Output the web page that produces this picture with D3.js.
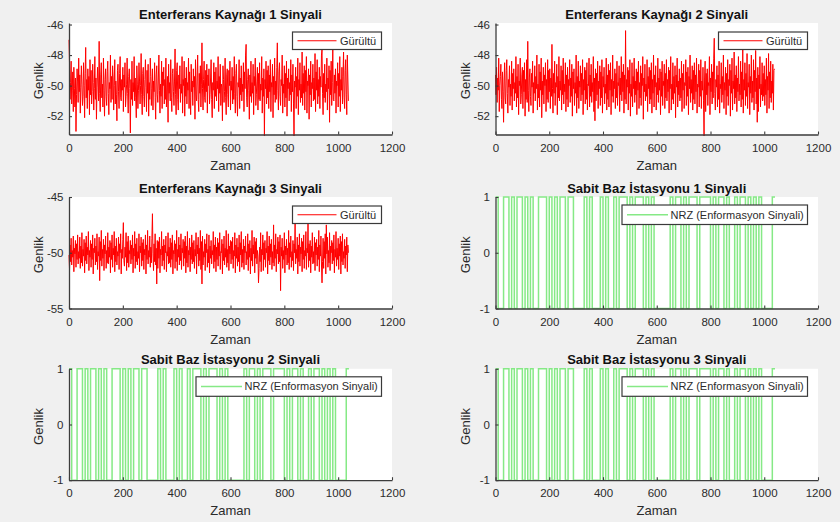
<!DOCTYPE html>
<html>
<head>
<meta charset="utf-8">
<script src="https://cdn.jsdelivr.net/npm/d3@7"></script>
<style>
  html, body { margin: 0; padding: 0; background: #f0f0f0; }
  svg { display: block; font-family: "Liberation Sans", Arial, Helvetica, sans-serif; }
</style>
</head>
<body>
<svg id="fig" width="840" height="522"></svg>
<script>
// ---- data -------------------------------------------------------------
// noise samples are stored every `sampleStep` time units
const sampleStep = 2;

const noise1 = [
  -47.0,-48.6,-50.9,-49.8,-48.4,-51.2,-50.3,-49.1,-51.7,-48.8,-50.2,-51.4,-49.5,-53.0,-50.6,-48.9,-49.7,-51.1,-48.2,-50.4,
  -49.3,-51.8,-50.1,-48.7,-49.9,-51.3,-50.7,-48.5,-50.0,-52.1,-49.2,-47.5,-50.8,-49.6,-51.5,-48.9,-50.3,-49.4,-51.9,-48.3,
  -50.6,-49.0,-51.2,-50.4,-48.6,-49.8,-51.6,-50.2,-48.1,-50.9,-49.5,-52.2,-50.1,-48.8,-49.7,-51.0,-47.1,-50.5,-51.7,-49.3,
  -48.5,-50.8,-49.9,-51.4,-48.2,-50.3,-52.0,-49.6,-48.9,-50.7,-51.3,-49.1,-48.4,-50.5,-51.9,-49.8,-50.2,-48.0,-51.1,-49.4,
  -50.9,-48.7,-49.5,-51.6,-50.0,-48.3,-51.2,-49.7,-50.6,-52.3,-49.0,-48.6,-50.4,-51.5,-49.2,-48.1,-50.8,-51.0,-49.6,-50.3,
  -48.8,-51.7,-49.3,-50.1,-48.5,-51.4,-50.7,-49.9,-48.2,-50.5,-51.8,-49.4,-48.9,-50.2,-53.1,-49.6,-50.9,-48.4,-51.3,-49.8,
  -50.4,-48.1,-51.0,-49.5,-50.8,-52.1,-48.7,-49.9,-51.5,-50.3,-48.5,-49.7,-51.2,-50.0,-47.9,-50.6,-51.9,-49.2,-48.8,-50.7,
  -51.4,-49.6,-48.3,-50.1,-51.7,-49.0,-50.5,-48.6,-52.0,-49.8,-50.9,-48.2,-49.4,-51.3,-50.2,-48.9,-51.6,-49.7,-50.4,-48.5,
  -50.8,-52.2,-49.3,-48.7,-50.6,-51.1,-49.5,-48.0,-50.3,-51.8,-49.9,-50.7,-48.4,-51.5,-49.1,-50.0,-48.8,-51.2,-49.6,-50.9,
  -48.2,-51.4,-50.1,-49.4,-52.4,-48.6,-50.5,-49.8,-51.0,-48.3,-50.8,-51.7,-49.2,-48.9,-50.4,-51.3,-49.7,-47.6,-50.6,-51.9,
  -49.0,-48.5,-50.9,-51.6,-49.3,-50.2,-48.7,-51.1,-49.9,-50.5,-48.1,-51.8,-49.6,-50.0,-48.4,-52.0,-49.5,-50.7,-48.8,-51.2,
  -49.8,-50.3,-48.2,-51.5,-49.1,-50.8,-51.9,-48.6,-50.4,-49.7,-51.3,-48.9,-50.1,-49.4,-52.2,-48.3,-50.6,-51.0,-49.5,-48.0,
  -50.9,-51.7,-49.2,-50.5,-48.7,-51.4,-49.9,-47.2,-50.2,-51.6,-49.6,-48.4,-50.8,-51.1,-49.0,-50.4,-48.6,-51.8,-49.3,-50.0,
  -48.9,-51.2,-50.6,-49.5,-48.3,-50.9,-52.1,-49.8,-50.3,-48.5,-51.5,-49.1,-50.7,-48.8,-51.0,-49.7,-50.2,-48.1,-51.7,-49.4,
  -50.5,-48.6,-51.3,-49.9,-50.1,-52.3,-48.7,-49.6,-51.1,-50.4,-48.2,-50.8,-51.9,-49.3,-48.9,-50.6,-51.4,-49.0,-50.0,-48.4,
  -51.6,-49.7,-50.3,-48.8,-51.2,-49.4,-50.9,-48.1,-50.5,-51.8,-49.2,-48.6,-50.7,-52.0,-49.8,-50.1,-48.3,-51.5,-49.5,-50.6,
  -48.7,-51.0,-49.9,-50.4,-48.5,-51.7,-49.1,-50.2,-48.0,-47.3,-50.8,-51.4,-49.6,-48.9,-50.3,-52.2,-49.3,-50.7,-48.4,-51.1,
  -49.8,-50.5,-48.6,-51.9,-49.4,-50.0,-48.2,-51.3,-50.6,-49.7,-48.8,-51.6,-49.2,-50.9,-48.5,-51.0,-49.9,-50.3,-48.1,-51.8,
  -49.5,-50.7,-48.9,-53.3,-49.6,-50.2,-48.4,-51.2,-49.0,-50.8,-48.7,-51.5,-49.3,-50.4,-48.3,-51.7,-49.8,-50.1,-48.6,-52.1,
  -49.4,-50.6,-48.2,-51.1,-49.7,-50.9,-48.8,-47.2,-50.3,-51.6,-49.1,-48.5,-50.7,-51.3,-49.6,-50.0,-48.0,-51.8,-49.9,-50.5,
  -48.7,-51.4,-49.2,-50.8,-48.4,-52.0,-49.5,-50.2,-48.9,-51.0,-49.8,-50.6,-48.3,-51.7,-49.3,-50.4,-48.6,-51.2,-53.3,-49.7,
  -50.1,-48.8,-51.5,-49.4,-50.7,-48.2,-51.9,-49.6,-50.3,-48.5,-51.1,-49.9,-50.8,-47.8,-51.3,-49.2,-50.5,-48.7,-51.6,-49.0,
  -50.4,-48.1,-51.8,-49.7,-50.0,-48.9,-52.2,-49.3,-50.6,-48.4,-51.4,-49.8,-50.2,-48.6,-51.0,-49.5,-50.9,-47.9,-51.7,-49.1,
  -50.3,-48.3,-51.2,-49.6,-50.7,-48.8,-51.5,-49.4,-50.1,-48.0,-47.6,-50.5,-51.9,-49.2,-50.8,-48.6,-51.1,-49.9,-50.4,-48.2,
  -51.6,-49.5,-50.2,-48.7,-52.4,-49.0,-50.6,-48.4,-51.3,-49.8,-47.6,-50.9,-51.0,-49.3,-50.5,-48.9,-51.8,-49.7,-50.0,-48.5,
  -51.4,-49.2,-50.7,-48.1,-51.7,-49.6,-50.3,-48.8,-51.2,-49.4,-47.8,-50.8,-51.5,-49.0,-48.3,-50.6,-51.9,-48.0,-49.5,-51.0
];

const noise2 = [
  -49.3,-50.6,-48.8,-51.1,-49.5,-50.3,-48.2,-51.7,-50.0,-49.4,-48.6,-50.9,-51.5,-49.1,-50.4,-52.4,-49.7,-48.5,-50.8,-51.2,
  -49.0,-48.3,-50.5,-51.8,-49.6,-50.1,-48.7,-51.3,-49.9,-50.7,-48.4,-51.6,-49.2,-50.2,-48.9,-51.0,-49.8,-50.5,-48.1,-51.4,
  -49.4,-50.8,-48.6,-51.9,-49.7,-50.0,-48.2,-51.2,-50.6,-49.3,-48.8,-51.5,-49.0,-50.4,-48.5,-52.0,-49.6,-50.9,-48.3,-51.1,
  -47.1,-50.3,-51.7,-49.5,-48.9,-50.7,-51.3,-49.2,-50.1,-48.4,-51.8,-49.8,-50.5,-48.7,-51.0,-49.4,-50.2,-48.0,-51.6,-49.9,
  -50.8,-48.6,-51.4,-49.1,-50.3,-48.2,-52.1,-49.7,-50.6,-48.8,-51.2,-49.3,-50.0,-48.5,-51.7,-49.6,-50.9,-48.3,-51.1,-49.0,
  -50.4,-48.9,-51.5,-49.5,-50.7,-47.3,-50.2,-51.8,-49.2,-50.5,-48.4,-51.3,-49.8,-50.1,-48.6,-51.9,-49.4,-50.8,-48.1,-51.0,
  -49.7,-50.3,-48.7,-51.6,-49.0,-50.6,-48.2,-51.2,-49.9,-50.4,-48.5,-51.7,-49.3,-50.9,-48.8,-51.4,-49.6,-50.0,-48.3,-51.1,
  -49.5,-50.7,-48.6,-52.0,-49.1,-50.2,-48.9,-51.3,-49.8,-50.5,-48.0,-51.8,-49.4,-50.8,-48.4,-51.5,-49.7,-50.1,-48.7,-51.0,
  -49.2,-50.6,-48.3,-51.9,-49.6,-50.3,-48.8,-51.2,-49.0,-50.9,-48.5,-51.6,-49.9,-50.0,-48.2,-51.4,-49.3,-50.7,-48.6,-51.1,
  -49.8,-50.4,-48.1,-51.7,-49.5,-52.3,-48.9,-51.0,-49.2,-50.6,-48.4,-51.5,-49.7,-50.2,-48.7,-51.3,-49.1,-50.8,-48.3,-51.8,
  -49.4,-50.1,-48.8,-51.2,-49.9,-50.5,-48.2,-51.6,-49.3,-50.9,-48.6,-51.4,-49.0,-50.3,-48.5,-51.9,-49.6,-50.7,-48.0,-51.1,
  -49.7,-50.2,-48.9,-51.5,-49.2,-50.8,-48.4,-51.3,-49.8,-50.0,-48.7,-51.7,-49.5,-50.6,-48.1,-51.0,-49.1,-50.4,-48.6,-51.8,
  -49.3,-50.9,-46.4,-51.2,-49.6,-50.1,-48.8,-51.6,-49.0,-50.5,-48.3,-52.0,-49.9,-50.7,-48.5,-51.4,-49.4,-50.2,-48.2,-51.1,
  -49.7,-50.6,-48.9,-51.9,-49.1,-50.3,-48.4,-51.5,-49.8,-50.8,-48.7,-51.3,-49.2,-50.0,-48.1,-52.2,-49.5,-50.4,-48.6,-51.0,
  -49.9,-50.7,-48.3,-51.7,-49.4,-50.2,-48.8,-51.2,-49.0,-50.9,-48.5,-51.8,-49.6,-50.5,-48.0,-51.4,-49.3,-50.1,-48.7,-51.6,
  -49.8,-50.6,-48.2,-51.1,-49.5,-50.3,-48.9,-51.9,-49.1,-50.7,-48.4,-51.3,-49.7,-50.0,-48.6,-51.5,-49.2,-50.8,-48.3,-51.0,
  -49.6,-50.4,-48.8,-51.8,-49.0,-50.2,-48.1,-51.6,-49.9,-50.9,-48.5,-51.2,-49.4,-50.5,-48.7,-52.1,-49.3,-50.1,-48.2,-51.4,
  -49.7,-50.6,-48.9,-51.0,-49.5,-50.8,-48.4,-51.7,-49.2,-50.3,-48.6,-51.5,-49.8,-50.0,-48.3,-51.3,-49.1,-50.7,-48.8,-51.9,
  -49.4,-50.2,-48.0,-51.1,-49.6,-50.5,-48.7,-51.6,-49.0,-50.9,-48.5,-51.2,-49.3,-50.4,-48.2,-51.8,-49.9,-50.1,-48.6,-51.4,
  -49.0,-50.7,-48.3,-51.5,-49.7,-50.3,-48.8,-51.0,-53.3,-49.5,-48.4,-51.7,-49.2,-50.6,-48.9,-51.3,-49.8,-50.0,-48.1,-51.9,
  -49.5,-50.4,-48.6,-51.2,-49.1,-50.8,-48.2,-46.9,-50.5,-51.6,-49.6,-50.1,-48.7,-51.4,-49.3,-50.9,-48.4,-51.8,-49.9,-50.2,
  -48.5,-51.1,-49.4,-50.6,-48.0,-51.5,-49.8,-50.3,-48.8,-51.9,-49.2,-50.7,-48.3,-51.3,-49.6,-50.0,-48.6,-52.0,-49.0,-50.5,
  -48.2,-51.6,-49.7,-50.2,-47.8,-51.2,-49.3,-50.8,-48.7,-51.7,-49.5,-50.4,-48.1,-51.0,-49.9,-50.6,-48.4,-51.4,-49.1,-50.9,
  -47.6,-51.8,-49.6,-50.3,-48.5,-51.3,-49.2,-50.7,-47.9,-51.5,-49.8,-50.1,-48.6,-51.9,-49.4,-50.5,-48.0,-51.1,-49.7,-50.8,
  -48.3,-51.6,-49.0,-50.4,-47.7,-51.2,-49.5,-52.4,-48.8,-51.7,-49.3,-50.2,-48.1,-51.4,-49.9,-50.6,-48.5,-51.0,-49.2,-50.7,
  -48.7,-51.3,-49.6,-50.6,-48.2,-51.8,-49.4,-50.3,-47.9,-51.5,-49.1,-50.8,-48.4,-51.1,-49.7,-50.5,-48.6,-51.6,-49.0,-48.9
];

const noise3 = [
  -50.2,-51.5,-49.3,-50.8,-48.7,-51.1,-49.8,-50.4,-48.5,-51.7,-49.6,-50.1,-48.9,-51.3,-49.2,-50.6,-48.4,-51.0,-49.9,-50.5,
  -48.6,-51.4,-49.4,-50.9,-48.2,-51.2,-49.7,-50.3,-48.8,-51.8,-49.1,-50.7,-48.5,-51.0,-49.5,-50.2,-48.1,-51.6,-49.8,-50.4,
  -48.9,-51.3,-49.2,-50.6,-48.4,-51.9,-49.6,-50.0,-48.7,-51.1,-49.4,-50.8,-48.3,-51.5,-49.9,-50.3,-48.6,-52.5,-49.0,-50.7,
  -48.0,-51.2,-49.7,-50.5,-48.8,-51.6,-49.3,-50.1,-48.5,-51.4,-49.8,-50.9,-48.2,-51.0,-49.5,-50.4,-48.9,-51.8,-49.1,-50.6,
  -48.4,-51.3,-49.6,-50.2,-48.1,-51.7,-49.4,-50.8,-48.7,-51.1,-49.9,-50.3,-48.6,-51.5,-49.2,-50.0,-48.3,-51.9,-49.7,-50.5,
  -48.8,-47.3,-50.7,-51.2,-49.5,-50.4,-48.2,-51.6,-49.0,-50.9,-48.5,-51.3,-49.8,-50.1,-48.9,-51.0,-49.3,-50.6,-48.4,-51.8,
  -49.6,-50.3,-48.1,-51.4,-49.2,-50.8,-48.7,-51.1,-49.9,-50.5,-48.3,-51.7,-49.4,-50.0,-48.6,-51.2,-49.1,-50.7,-48.8,-51.5,
  -49.7,-50.2,-48.4,-51.9,-49.3,-50.6,-48.0,-51.0,-49.8,-50.4,-48.5,-51.3,-49.5,-50.9,-48.7,-46.5,-50.1,-51.6,-49.2,-50.8,
  -48.3,-51.1,-49.6,-52.8,-48.9,-51.4,-49.0,-50.5,-48.6,-51.8,-49.7,-50.2,-48.1,-51.2,-49.4,-50.7,-48.8,-51.5,-49.3,-50.0,
  -48.5,-51.7,-49.9,-50.3,-48.2,-51.0,-49.5,-50.9,-48.7,-51.3,-49.1,-50.6,-48.4,-51.9,-49.8,-50.1,-48.9,-51.4,-49.2,-50.8,
  -48.0,-51.6,-49.7,-50.4,-48.6,-51.1,-49.3,-50.7,-48.3,-51.5,-49.6,-50.0,-48.8,-51.2,-49.0,-50.5,-48.5,-51.8,-49.4,-50.9,
  -48.1,-51.3,-49.8,-50.2,-48.7,-51.7,-49.5,-50.6,-48.4,-51.0,-49.1,-50.8,-48.9,-51.4,-49.7,-50.3,-48.2,-51.9,-49.3,-50.1,
  -48.6,-51.2,-49.6,-50.7,-48.0,-51.5,-49.0,-52.8,-48.5,-51.1,-49.9,-50.4,-48.8,-51.6,-49.2,-50.0,-48.3,-51.3,-49.7,-50.9,
  -48.4,-51.8,-49.4,-50.5,-48.9,-51.0,-49.8,-50.2,-48.1,-51.4,-49.3,-50.8,-48.6,-51.7,-49.5,-50.6,-48.7,-51.2,-49.1,-50.3,
  -48.2,-51.5,-49.9,-50.0,-48.8,-51.9,-49.2,-50.7,-48.5,-51.1,-49.6,-50.4,-48.0,-51.3,-49.7,-50.9,-48.3,-51.6,-49.4,-50.1,
  -48.9,-51.0,-49.0,-50.6,-48.6,-51.4,-49.8,-50.3,-48.2,-51.8,-49.3,-50.5,-48.7,-51.2,-49.5,-50.8,-48.4,-51.7,-49.1,-50.2,
  -48.1,-51.3,-49.7,-50.9,-48.8,-51.5,-49.4,-50.0,-48.5,-51.1,-49.9,-50.6,-48.3,-51.6,-49.2,-50.4,-48.9,-51.9,-49.6,-50.7,
  -48.0,-51.2,-49.3,-50.1,-48.6,-51.8,-49.0,-50.5,-48.7,-51.0,-49.8,-50.3,-52.7,-51.4,-49.5,-50.8,-48.2,-51.7,-49.7,-50.2,
  -48.4,-51.6,-49.1,-50.6,-48.9,-51.3,-49.6,-50.0,-48.1,-51.9,-49.4,-50.7,-48.5,-51.1,-49.2,-50.4,-48.8,-51.5,-49.9,-50.9,
  -47.5,-51.2,-49.3,-50.5,-48.3,-51.7,-49.7,-50.1,-48.6,-51.0,-49.0,-50.8,-48.4,-53.4,-49.5,-50.3,-48.7,-51.4,-49.8,-50.6,
  -48.2,-51.8,-49.4,-50.2,-48.8,-51.1,-49.6,-50.9,-48.0,-51.5,-49.1,-50.4,-48.5,-51.3,-49.9,-50.7,-48.9,-51.6,-49.2,-50.0,
  -47.4,-51.0,-49.7,-50.5,-48.6,-51.9,-49.3,-50.8,-48.3,-51.2,-49.5,-50.1,-48.7,-51.7,-49.0,-50.6,-48.4,-51.4,-49.8,-50.3,
  -48.1,-51.5,-49.6,-50.0,-47.4,-51.3,-49.2,-50.7,-48.9,-51.8,-49.4,-50.4,-48.2,-51.0,-49.9,-50.9,-48.6,-51.6,-49.1,-50.2,
  -48.8,-51.2,-49.5,-50.6,-48.0,-51.7,-49.3,-50.3,-48.5,-51.1,-52.7,-50.8,-48.7,-51.4,-49.0,-50.5,-48.3,-51.9,-47.5,-50.1,
  -48.6,-51.3,-49.8,-50.9,-48.2,-51.6,-49.4,-50.0,-48.9,-51.0,-49.1,-50.7,-48.4,-51.8,-49.7,-50.4,-48.1,-51.2,-49.6,-50.6,
  -48.7,-51.5,-49.2,-50.3,-48.5,-51.9,-49.0,-50.8,-48.3,-51.1,-49.9,-50.5,-48.8,-51.4,-49.4,-50.2,-48.6,-51.7,-49.3,-50.0
];

// NRZ information signal, one level per bit, `bitLength` time units per bit
const bitLength = 10;
const nrzLevels = [
   1,-1,-1, 1, 1,-1, 1,-1, 1, 1,
  -1, 1,-1, 1,-1,-1, 1, 1, 1,-1,
   1,-1, 1,-1, 1, 1,-1, 1, 1,-1,
  -1,-1,-1, 1,-1, 1,-1,-1,-1, 1,
  -1, 1,-1,-1, 1,-1, 1, 1, 1,-1,
   1,-1, 1, 1, 1,-1, 1,-1, 1,-1,
  -1,-1,-1,-1,-1, 1,-1, 1, 1,-1,
   1,-1, 1, 1, 1,-1, 1, 1, 1, 1,
  -1, 1,-1, 1, 1,-1, 1,-1,-1, 1,
  -1, 1, 1,-1, 1,-1, 1,-1, 1,-1,
  -1,-1,-1, 1
];

const xTicks = [0, 200, 400, 600, 800, 1000, 1200];
const noiseTicksA = [-52, -50, -48, -46];
const noiseTicksB = [-55, -50, -45];
const nrzTicks = [-1, 0, 1];

const panelTitles = [
  "Enterferans Kaynağı 1 Sinyali",
  "Enterferans Kaynağı 2 Sinyali",
  "Enterferans Kaynağı 3 Sinyali",
  "Sabit Baz İstasyonu 1 Sinyali",
  "Sabit Baz İstasyonu 2 Sinyali",
  "Sabit Baz İstasyonu 3 Sinyali"
];
const noiseLegend = "Gürültü";
const nrzLegend = "NRZ (Enformasyon Sinyali)";
const xLabel = "Zaman";
const yLabel = "Genlik";

// ---- drawing ----------------------------------------------------------
const svg = d3.select("#fig");
const RED = "#ff0000", GREEN = "#86e986", AXIS = "#3c3c3c", TXT = "#2b2b2b";
const plainNum = d => String(d);   // plain hyphen-minus tick labels

const noisePts = arr => arr.map((v, i) => [i * sampleStep, v]);
const nrzPts = arr => arr.map((v, i) => [i * bitLength, v])
  .concat([[arr.length * bitLength, arr[arr.length - 1]]]);

const colL = [69, 392], colR = [495.5, 818];
const rows = [[23, 134.5], [197, 308.5], [368.8, 480.2]];

const panels = [
  { col: colL, row: rows[0], dom: [-53.2, -45.9], ticks: noiseTicksA, pts: noisePts(noise1), color: RED, width: 1, step: false, legend: noiseLegend },
  { col: colR, row: rows[0], dom: [-53.2, -45.9], ticks: noiseTicksA, pts: noisePts(noise2), color: RED, width: 1, step: false, legend: noiseLegend },
  { col: colL, row: rows[1], dom: [-55, -45],     ticks: noiseTicksB, pts: noisePts(noise3), color: RED, width: 1, step: false, legend: noiseLegend },
  { col: colR, row: rows[1], dom: [-1, 1],        ticks: nrzTicks,    pts: nrzPts(nrzLevels), color: GREEN, width: 1.5, step: true, legend: nrzLegend },
  { col: colL, row: rows[2], dom: [-1, 1],        ticks: nrzTicks,    pts: nrzPts(nrzLevels), color: GREEN, width: 1.5, step: true, legend: nrzLegend },
  { col: colR, row: rows[2], dom: [-1, 1],        ticks: nrzTicks,    pts: nrzPts(nrzLevels), color: GREEN, width: 1.5, step: true, legend: nrzLegend }
];

panels.forEach((p, k) => {
  const [x0, x1] = p.col, [y0, y1] = p.row;
  const x = d3.scaleLinear().domain([0, 1200]).range([x0, x1]);
  const y = d3.scaleLinear().domain(p.dom).range([y1, y0]);
  const g = svg.append("g");

  g.append("rect").attr("x", x0).attr("y", y0)
    .attr("width", x1 - x0).attr("height", y1 - y0).attr("fill", "#ffffff");

  const line = d3.line().x(d => x(d[0])).y(d => y(d[1]))
    .curve(p.step ? d3.curveStepAfter : d3.curveLinear);
  g.append("path").datum(p.pts).attr("d", line)
    .attr("fill", "none").attr("stroke", p.color)
    .attr("stroke-width", p.width).attr("stroke-linejoin", "miter");

  const ax = g.append("g").attr("transform", `translate(0,${y1})`)
    .call(d3.axisBottom(x).tickValues(xTicks).tickFormat(plainNum)
      .tickSizeInner(-3).tickSizeOuter(0).tickPadding(9));
  const ay = g.append("g").attr("transform", `translate(${x0},0)`)
    .call(d3.axisLeft(y).tickValues(p.ticks).tickFormat(plainNum)
      .tickSizeInner(-3).tickSizeOuter(0).tickPadding(5.5));
  [ax, ay].forEach(a => {
    a.attr("font-family", null).attr("font-size", null);
    a.select(".domain").attr("stroke", AXIS).attr("stroke-width", 1.3);
    a.selectAll(".tick line").attr("stroke", AXIS).attr("stroke-width", 1.1);
    a.selectAll(".tick text").attr("fill", TXT).style("font-size", "11.5px");
  });

  // title
  g.append("text").attr("x", (x0 + x1) / 2).attr("y", y0 - 4.5)
    .attr("text-anchor", "middle").attr("font-weight", "bold")
    .style("font-size", "13px").attr("fill", "#111").text(panelTitles[k]);

  // axis labels
  g.append("text").attr("x", (x0 + x1) / 2).attr("y", y1 + 35)
    .attr("text-anchor", "middle").style("font-size", "13px")
    .attr("fill", TXT).text(xLabel);
  g.append("text")
    .attr("transform", `translate(${x0 - 26},${(y0 + y1) / 2 + 2}) rotate(-90)`)
    .attr("text-anchor", "middle").style("font-size", "13px")
    .attr("fill", TXT).text(yLabel);

  // legend
  const wide = p.legend === nrzLegend;
  const lw = wide ? 185.5 : 89, lh = wide ? 19.5 : 17.5;
  const lx = x1 - 10.5 - lw, ly = y0 + (wide ? 8 : 9);
  const lg = g.append("g");
  lg.append("rect").attr("x", lx).attr("y", ly).attr("width", lw).attr("height", lh)
    .attr("fill", "#ffffff").attr("stroke", "#3a3a3a").attr("stroke-width", 1.2);
  lg.append("line").attr("x1", lx + 5).attr("x2", lx + (wide ? 46 : 44))
    .attr("y1", ly + lh / 2).attr("y2", ly + lh / 2)
    .attr("stroke", p.color).attr("stroke-width", p.width);
  lg.append("text").attr("x", lx + (wide ? 48.5 : 47.5)).attr("y", ly + lh / 2)
    .attr("dy", "0.35em").style("font-size", "11px").attr("fill", TXT)
    .text(p.legend);
});
</script>
</body>
</html>
